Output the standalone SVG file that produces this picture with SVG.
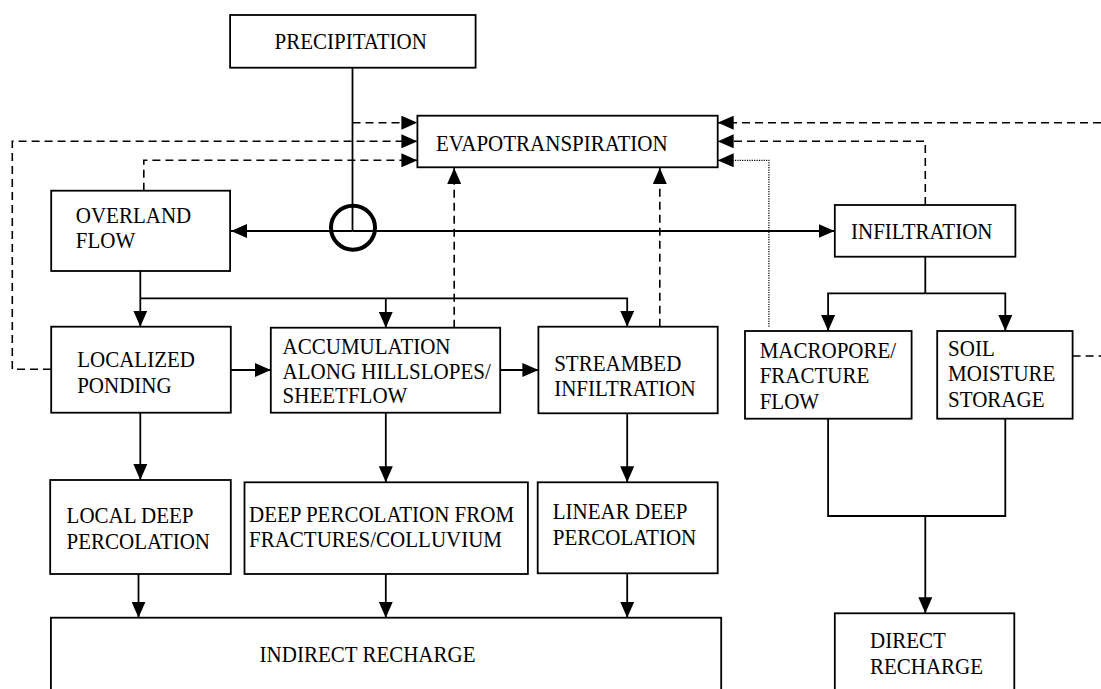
<svg xmlns="http://www.w3.org/2000/svg" width="1101" height="689" viewBox="0 0 1101 689">
<defs>
<style>
.box{fill:#fff;stroke:#000;stroke-width:1.8}
.t{font-family:"Liberation Serif","Times New Roman",serif;font-size:21px;fill:#000;transform-box:fill-box;transform-origin:0 100%;transform:scaleY(1.07)}
.s{fill:none;stroke:#000;stroke-width:1.8}
.d{fill:none;stroke:#000;stroke-width:1.6;stroke-dasharray:8 5}
.o{fill:none;stroke:#000;stroke-width:1.2;stroke-dasharray:1.2 1.2}
</style>
<marker id="a" viewBox="0 0 16 14" refX="16" refY="7" markerWidth="16" markerHeight="14" markerUnits="userSpaceOnUse" orient="auto">
<path d="M0,0 L16,7 L0,14 z" fill="#000"/>
</marker>
</defs>
<rect width="1101" height="689" fill="#fff"/>
<g id="connectors">
<path class="s" d="M352.5,67.7 V231"/>
<circle cx="353" cy="227.7" r="22" fill="none" stroke="#000" stroke-width="4"/>
<path class="s" d="M352.5,231 H231" marker-end="url(#a)"/>
<path class="s" d="M352.5,231 H834.5" marker-end="url(#a)"/>
<path class="d" d="M352.5,122.7 H417.4" marker-end="url(#a)"/>
<path class="d" d="M51,369.3 H12.3 V141.3 H417.4" marker-end="url(#a)"/>
<path class="d" d="M143.8,190.7 V160.3 H417.4" marker-end="url(#a)"/>
<path class="d" d="M1101,122.7 H717.7" marker-end="url(#a)"/>
<path class="d" d="M925.3,205 V141.3 H717.7" marker-end="url(#a)"/>
<path class="o" d="M768.9,326.7 V160.3 H717.7" marker-end="url(#a)"/>
<path class="d" d="M1072.6,356 H1101"/>
<path class="d" d="M454.2,327.7 V168" marker-end="url(#a)"/>
<path class="d" d="M659.8,326.7 V168" marker-end="url(#a)"/>
<path class="s" d="M140.3,271 V326.7" marker-end="url(#a)"/>
<path class="s" d="M140.3,298.3 H627.2 V326.7" marker-end="url(#a)"/>
<path class="s" d="M385.8,298.3 V327.7" marker-end="url(#a)"/>
<path class="s" d="M230.8,370 H270.8" marker-end="url(#a)"/>
<path class="s" d="M500.2,370 H538.4" marker-end="url(#a)"/>
<path class="s" d="M925.3,256.7 V293.3"/>
<path class="s" d="M925.3,293.3 H828.1 V331" marker-end="url(#a)"/>
<path class="s" d="M925.3,293.3 H1005.3 V331" marker-end="url(#a)"/>
<path class="s" d="M140.3,412.7 V480" marker-end="url(#a)"/>
<path class="s" d="M385.8,412.7 V482.3" marker-end="url(#a)"/>
<path class="s" d="M627.2,413.3 V482.3" marker-end="url(#a)"/>
<path class="s" d="M138.5,572 V617.7" marker-end="url(#a)"/>
<path class="s" d="M385.8,574 V617.7" marker-end="url(#a)"/>
<path class="s" d="M627.2,573.3 V617.7" marker-end="url(#a)"/>
<path class="s" d="M828.1,418.7 V516 H1005.3 V418.7"/>
<path class="s" d="M925.3,516 V613.3" marker-end="url(#a)"/>
</g>
<g id="precipitation"><rect class="box" x="230.1" y="15" width="245.5" height="52.7"/><text class="t" x="350.7" y="49.6" text-anchor="middle">PRECIPITATION</text></g>
<g id="evapotranspiration"><rect class="box" x="417.4" y="115.7" width="300.3" height="51.6"/><text class="t" x="436" y="151.5">EVAPOTRANSPIRATION</text></g>
<g id="overland"><rect class="box" x="51.2" y="190.7" width="178.9" height="80.3"/><text class="t" x="75.8" y="223.6">OVERLAND</text><text class="t" x="75.8" y="248.6">FLOW</text></g>
<g id="infiltration"><rect class="box" x="834.8" y="205" width="180.6" height="51.7"/><text class="t" x="851" y="239.6">INFILTRATION</text></g>
<g id="localized"><rect class="box" x="51.2" y="326.7" width="179.6" height="86"/><text class="t" x="77.2" y="367">LOCALIZED</text><text class="t" x="77.2" y="393">PONDING</text></g>
<g id="accumulation"><rect class="box" x="270.8" y="327.7" width="229.4" height="85"/><text class="t" x="282.6" y="354.3">ACCUMULATION</text><text class="t" x="282.6" y="379.3">ALONG HILLSLOPES/</text><text class="t" x="282.6" y="403.6">SHEETFLOW</text></g>
<g id="streambed"><rect class="box" x="538.4" y="326.7" width="179.3" height="86.6"/><text class="t" x="554.2" y="371">STREAMBED</text><text class="t" x="554.2" y="396.3">INFILTRATION</text></g>
<g id="macropore"><rect class="box" x="745" y="331" width="166.6" height="87.7"/><text class="t" x="759.7" y="358.6">MACROPORE/</text><text class="t" x="759.7" y="383.6">FRACTURE</text><text class="t" x="759.7" y="409.6">FLOW</text></g>
<g id="soil"><rect class="box" x="937.2" y="331" width="135.4" height="87.7"/><text class="t" x="948.1" y="356">SOIL</text><text class="t" x="948.1" y="381.3">MOISTURE</text><text class="t" x="948.1" y="407">STORAGE</text></g>
<g id="localdeep"><rect class="box" x="50.2" y="480" width="180.6" height="94"/><text class="t" x="66.6" y="523.6">LOCAL DEEP</text><text class="t" x="66.6" y="549.3">PERCOLATION</text></g>
<g id="deepperc"><rect class="box" x="244.5" y="482.3" width="283.4" height="91.7"/><text class="t" x="249" y="522">DEEP PERCOLATION FROM</text><text class="t" x="249" y="547">FRACTURES/COLLUVIUM</text></g>
<g id="lineardeep"><rect class="box" x="537.7" y="482.3" width="180" height="91"/><text class="t" x="552.8" y="519.6">LINEAR DEEP</text><text class="t" x="552.8" y="545.3">PERCOLATION</text></g>
<g id="indirect"><rect class="box" x="50.9" y="617.7" width="670.3" height="80"/><text class="t" x="259.6" y="662">INDIRECT RECHARGE</text></g>
<g id="direct"><rect class="box" x="834.8" y="613.3" width="179.5" height="80"/><text class="t" x="870" y="648.6">DIRECT</text><text class="t" x="870" y="674.3">RECHARGE</text></g>
</svg>
